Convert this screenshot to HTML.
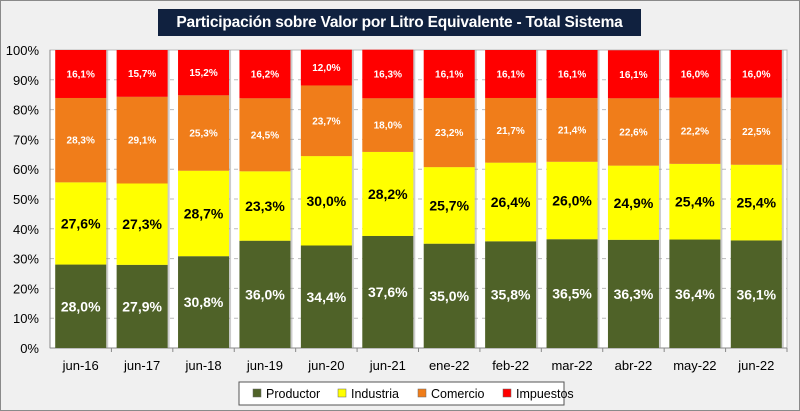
<!DOCTYPE html>
<html><head><meta charset="utf-8"><style>
body{margin:0;background:#fff}
#wrap{position:relative;width:798px;height:409px;border:1px solid #8a8a8a;background:#f0f0f0;font-family:"Liberation Sans",sans-serif;overflow:hidden}
#title{position:absolute;left:157px;top:8px;width:483px;height:27px;background:#10213f;color:#fff;font-weight:bold;font-size:15.5px;line-height:27px;text-align:center;white-space:nowrap;letter-spacing:-0.2px}
svg{position:absolute;left:0;top:0}
</style></head><body>
<div id="wrap">
<div id="title">Participación sobre Valor por Litro Equivalente - Total Sistema</div>
<svg id="chart" width="800" height="411"></svg>
</div>
<script>
const categories=["jun-16","jun-17","jun-18","jun-19","jun-20","jun-21","ene-22","feb-22","mar-22","abr-22","may-22","jun-22"];
const productor=[28.0,27.9,30.8,36.0,34.4,37.6,35.0,35.8,36.5,36.3,36.4,36.1];
const industria=[27.6,27.3,28.7,23.3,30.0,28.2,25.7,26.4,26.0,24.9,25.4,25.4];
const comercio=[28.3,29.1,25.3,24.5,23.7,18.0,23.2,21.7,21.4,22.6,22.2,22.5];
const impuestos=[16.1,15.7,15.2,16.2,12.0,16.3,16.1,16.1,16.1,16.1,16.0,16.0];
const yTicks=[0,10,20,30,40,50,60,70,80,90,100];
const seriesNames=["Productor","Industria","Comercio","Impuestos"];

const NS="http://www.w3.org/2000/svg";
const svg=document.getElementById('chart');
const L=49,R=786,T=49,B=347;
const bw=(R-L)/categories.length;
const y=v=>B-(v/100)*(B-T);
const xc=i=>L+bw*(i+0.5);
function mk(tag,attrs,parent){const e=document.createElementNS(NS,tag);for(const k in attrs)e.setAttribute(k,attrs[k]);(parent||svg).appendChild(e);return e;}
const plot=mk('rect',{x:L,y:T,width:R-L,height:B-T,fill:'#fff',stroke:'#bbb'});


yTicks.forEach(t=>{
  if(t>0&&t<100){const g=mk('line',{x1:L,x2:R,y1:y(t),y2:y(t),stroke:'#bbb','stroke-dasharray':'4,4'});
  
  }
  const tx=mk('text',{x:L-11,y:y(t)+5,'text-anchor':'end','font-size':13,fill:'#000'});
  tx.textContent=t+'%';
  
  
});
mk('line',{x1:L,x2:L,y1:T,y2:B,stroke:'#888'});
mk('line',{x1:L,x2:R,y1:B,y2:B,stroke:'#888'});
const colors=['#4f6228','#ffff00','#f07d1a','#ff0000'];
const data=[productor,industria,comercio,impuestos];
const lblColor=['#fff','#000','#fff','#fff'];
const lblSize=[14,14,10,10];
const names=['productor','industria','comercio','impuestos'];
categories.forEach((c,i)=>{
  const x0=xc(i)-25.5;let cum=0;
  const sh=mk('rect',{x:x0+2,y:y(100),width:51,height:B-y(100),fill:'#999',opacity:0.5});
  data.forEach((s,k)=>{
    const v=s[i];const y1=y(cum+v),y0=y(cum);
    const r=mk('rect',{x:x0,y:y1,width:51,height:y0-y1,fill:colors[k]});
    
    
    const t=mk('text',{x:xc(i),y:(y0+y1)/2+lblSize[k]*0.36,'text-anchor':'middle','font-size':lblSize[k],'font-weight':'bold',fill:lblColor[k]});
    t.textContent=v.toFixed(1).replace('.',',')+'%';
    
    
    cum+=v;
  });
  const tk=mk('line',{x1:L+bw*(i+1),x2:L+bw*(i+1),y1:B,y2:B+4,stroke:'#888'});
  const xt=mk('text',{x:xc(i),y:B+22,'text-anchor':'middle','font-size':13,fill:'#000'});
  xt.textContent=c;
  
  
});
const lg=mk('g',{});


mk('rect',{x:238,y:381,width:325,height:23,fill:'#fff',stroke:'#555'},lg);
const lx=[252,337,417,502];
seriesNames.forEach((n,k)=>{
  const e=mk('g',{},lg);
  
  
  mk('rect',{x:lx[k],y:388,width:8,height:8,fill:colors[k],stroke:'#666','stroke-width':0.5},e);
  const t=mk('text',{x:lx[k]+13,y:397,'font-size':12.5,fill:'#000'},e);
  t.textContent=n;
});
</script>
</body></html>
